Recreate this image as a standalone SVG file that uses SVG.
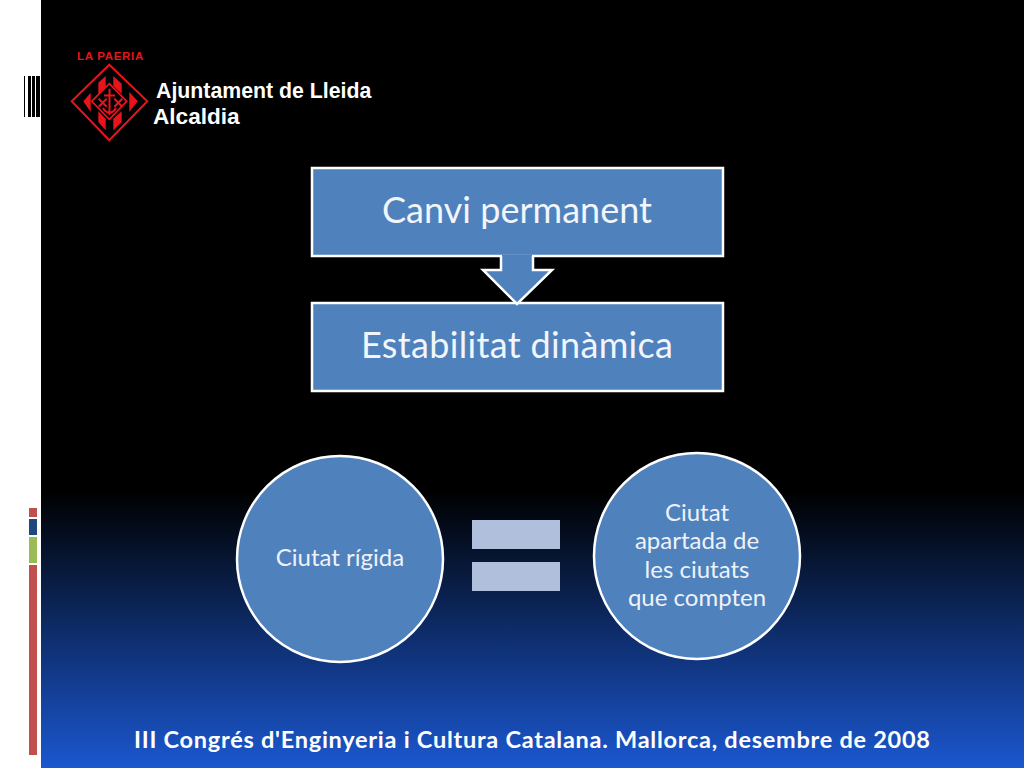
<svg xmlns="http://www.w3.org/2000/svg" width="1024" height="768" viewBox="0 0 1024 768">
<defs>
<linearGradient id="bg" x1="0" y1="0" x2="0" y2="1">
<stop offset="0" stop-color="#000"/><stop offset="0.64" stop-color="#000"/><stop offset="1" stop-color="#1b57cf"/>
</linearGradient>
</defs>
<style>
.b{fill:#4f81bd;stroke:#fff;stroke-width:2.5}
.t{font-family:Lato,"Open Sans",sans-serif;fill:#fff;text-anchor:middle}
.h{font-size:36px;fill:#f2f5fa}
.c{font-size:24px;fill:#eef2f8}
.a{font-family:"Liberation Sans",Arial,sans-serif;font-weight:700;fill:#fff}
.r{fill:#e8141c}
.l{fill:none;stroke:#e8141c}
.s{fill:#000}
</style>
<rect width="1024" height="768" fill="#fff"/>
<rect x="41" width="983" height="768" fill="url(#bg)"/>
<g id="barcode" class="s">
<rect x="24" y="76" width="1" height="41"/><rect x="28" y="76" width="3" height="41"/><rect x="32" y="76" width="3" height="41"/><rect x="36" y="76" width="4" height="41"/>
</g>
<g id="side-bars">
<rect x="29" y="508" width="8" height="9" fill="#c0504d"/>
<rect x="29" y="519" width="8" height="16" fill="#1f497d"/>
<rect x="29" y="537" width="8" height="26" fill="#9bbb59"/>
<rect x="29" y="565" width="8" height="190" fill="#c0504d"/>
</g>
<g id="logo">
<text x="110.500" y="60" text-anchor="middle" font-family="Liberation Sans, Arial, sans-serif" font-size="11.500" font-weight="700" fill="#e8141c" letter-spacing="0.700">LA PAERIA</text>
<path class="l" stroke-width="2" d="M109.300 64.700 147.300 101.300 109.300 140.300 71.700 101.300Z"/>
<path class="l" stroke-width="1.800" d="M109.300 83.700 126.700 101.300 109.300 119.300 91.700 101.300Z"/>
<path class="r" d="M98.300 82.700 105.700 76V87L98.300 93.700ZM113.300 76 121.700 83.700V93.700L113.300 86ZM98.300 111.300 105.700 118.700V130.300L98.300 122ZM113.300 118.700 121.700 111.300V122L113.300 130.300ZM83.300 101.300 90.700 92.700V112ZM129.300 92 137.700 101.300 129.300 112Z"/>
<path class="l" stroke-width="2" d="M109.500 88.700V115M104 95.500H115M98.700 98.700 106.700 106.700M106.700 98.700 98.700 106.700M114.300 98.700 122.300 106.700M122.300 98.700 114.300 106.700M103 108Q105 112 109.500 113Q114 112 116 108"/>
</g>
<g id="header-text">
<text class="a" x="156" y="98" font-size="21.300">Ajuntament de Lleida</text>
<text class="a" x="153" y="124" font-size="22.600">Alcaldia</text>
</g>
<g id="node-canvi">
<rect class="b" x="312" y="168" width="411" height="88"/>
<text class="t h" x="517" y="223" textLength="270">Canvi permanent</text>
</g>
<g id="node-estabilitat">
<rect class="b" x="312" y="303" width="411" height="88"/>
<text class="t h" x="517" y="358" textLength="312">Estabilitat dinàmica</text>
</g>
<g id="connectors">
<path d="M502 254.500H532V259H502Z" fill="#4f81bd"/>
<path class="b" d="M501 256V270H483L517 304 552 270H533V256"/>
</g>
<g id="node-rigida">
<circle class="b" cx="340" cy="559" r="103"/>
<text class="t c" x="340" y="566">Ciutat rígida</text>
</g>
<g id="equals" fill="#b0c0dc">
<rect x="472" y="520" width="88" height="29"/>
<rect x="472" y="562" width="88" height="29"/>
</g>
<g id="node-apartada">
<circle class="b" cx="697" cy="556" r="103"/>
<text class="t c" x="697" y="521">Ciutat</text>
<text class="t c" x="697" y="549">apartada de</text>
<text class="t c" x="697" y="578">les ciutats</text>
<text class="t c" x="697" y="606">que compten</text>
</g>
<g id="footer">
<text x="532" y="748" text-anchor="middle" font-family="Lato, Open Sans, sans-serif" font-weight="700" font-size="23.500" fill="#fff" textLength="796">III Congrés d'Enginyeria i Cultura Catalana. Mallorca, desembre de 2008</text>
</g>
</svg>
